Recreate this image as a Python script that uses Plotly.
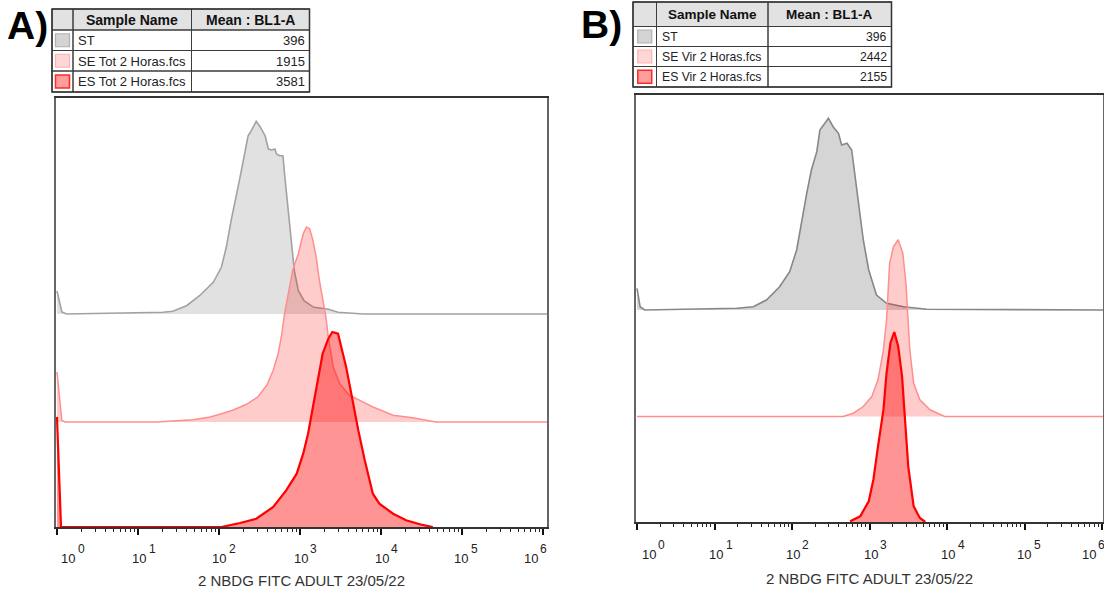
import numpy as np
import plotly.graph_objects as go

W, H = 1104, 596

# ---------------- data (log10 fluorescence, histogram height) ----------------
# Panel A
a_st_log = [0.0, 0.06, 0.12, 0.94, 1.31, 1.43, 1.60, 1.76, 1.93, 2.03, 2.09, 2.15, 2.22, 2.26, 2.30, 2.36,
            2.40, 2.46, 2.50, 2.57, 2.61, 2.65, 2.69, 2.71, 2.75, 2.79, 2.81, 2.85, 2.89, 2.93, 2.98, 3.05,
            3.17, 3.34, 3.47, 3.78, 6.05]
a_st_h = [23, 2, 0, 0.7, 1.7, 2.7, 8.3, 18.3, 31.7, 46.7, 66.7, 93.3, 123.3, 136.7, 153.3, 178.3,
          183.3, 192.7, 188.3, 178.3, 165, 164, 165, 160, 158.3, 158.3, 140, 106.7, 73.3, 43.3, 23.3, 13.3,
          6.7, 5, 1.7, 0, 0]

a_se_log = [0.0, 0.06, 0.10, 1.23, 1.68, 1.89, 2.01, 2.17, 2.34, 2.48, 2.59, 2.67, 2.73, 2.77, 2.81,
            2.87, 2.91, 2.98, 3.04, 3.08, 3.12, 3.16, 3.20, 3.24, 3.28, 3.32, 3.35, 3.41, 3.49, 3.61,
            3.74, 3.90, 4.15, 4.39, 4.68, 6.05]
a_se_h = [50, 1.7, 0, 0, 2.3, 5, 7.7, 11.7, 17.7, 25, 36.7, 51.7, 68.3, 85, 108.3,
          135, 151.7, 168.3, 188.3, 195, 193.3, 181.7, 165, 141.7, 121.7, 105, 85, 55, 38.3, 26.7,
          21.7, 15, 6.7, 4.3, 0, 0]

a_es_log = [0.0, 0.05, 2.03, 2.26, 2.46, 2.67, 2.83, 2.96, 3.04, 3.10, 3.16, 3.22, 3.28, 3.35, 3.40,
            3.47, 3.51, 3.57, 3.63, 3.72, 3.80, 3.90, 3.98, 4.15, 4.31, 4.48, 4.64]
a_es_h = [110, 0, 0, 4, 8.3, 20, 36.7, 53.3, 73.3, 93.3, 120, 146.7, 173.3, 188.3, 195,
          193.3, 180, 160, 135, 96.7, 66.7, 33.3, 23.3, 13.3, 6.7, 2.7, 0]

# Panel B
b_st_log = [0.0, 0.04, 0.10, 0.94, 1.29, 1.50, 1.67, 1.84, 1.97, 2.06, 2.12, 2.19, 2.25, 2.32, 2.36,
            2.41, 2.47, 2.53, 2.60, 2.64, 2.71, 2.77, 2.81, 2.86, 2.92, 2.99, 3.09, 3.22, 3.44, 3.74, 6.02]
b_st_h = [21.7, 3.3, 0, 0.7, 1.7, 3.3, 10, 23.3, 38.3, 60, 86.7, 116.7, 140, 158.3, 180,
          185, 191.7, 183.3, 176.7, 165, 166.7, 160, 136.7, 106.7, 70, 40, 15, 6.7, 3.3, 0.7, 0]

b_se_log = [0.0, 2.66, 2.79, 2.92, 3.03, 3.11, 3.18, 3.22, 3.26, 3.31, 3.37, 3.43, 3.47, 3.50, 3.52,
            3.57, 3.65, 3.78, 3.97, 6.02]
b_se_h = [0, 0, 3.3, 10, 20, 36.7, 66.7, 96.7, 153.3, 170, 176.7, 163.3, 133.3, 96.7, 66.7,
          33.3, 16.7, 6.7, 0, 0]

b_es_log = [2.75, 2.88, 2.99, 3.05, 3.11, 3.18, 3.22, 3.27, 3.32, 3.37, 3.42, 3.46, 3.50, 3.57, 3.65, 3.72]
b_es_h = [0.7, 5.7, 20.7, 42.3, 75.7, 112.3, 149, 179, 190, 175.7, 145.7, 99, 55.7, 15.7, 4, 0]

# vertical offsets of the overlays (ES bottom, SE middle, ST top)
offsets_a = {"ST": 213, "SE": 105, "ES": 0}
offsets_b = {"ST": 212, "SE": 105.5, "ES": 0}

# tables
sample_names_a = ["ST", "SE Tot 2 Horas.fcs", "ES Tot 2 Horas.fcs"]
means_a = ["396", "1915", "3581"]
sample_names_b = ["ST", "SE Vir 2 Horas.fcs", "ES Vir 2 Horas.fcs"]
means_b = ["396", "2442", "2155"]
headers = ["Sample Name", "Mean : BL1-A"]

decades = [0, 1, 2, 3, 4, 5, 6]
tick_vals = [10 ** d for d in decades]
label_shift_a = [11.5, 1.5, 0.5, 1, 1, -0.5, -12]   # horizontal nudge of the "10" labels (px)
label_shift_b = [11.5, 1.5, 0.5, 1, 1, -0.5, -13]
minor_vals = [k * 10 ** d for d in range(0, 6) for k in range(2, 10)]
axis_title = "2 NBDG FITC ADULT 23/05/22"

FONT = "Liberation Sans, Arial, sans-serif"

styles = {
    "ST_a": dict(line=dict(color="#a2a2a2", width=1.6), fillcolor="rgba(200,200,200,0.55)"),
    "ST_b": dict(line=dict(color="#878787", width=1.6), fillcolor="rgba(190,190,190,0.65)"),
    "SE": dict(line=dict(color="#ff8e8e", width=1.5), fillcolor="rgba(255,0,0,0.2)"),
    "ES": dict(line=dict(color="#ff0000", width=2.2), fillcolor="rgba(255,0,0,0.42)"),
}

fig = go.Figure()


def add_hist(logs, hs, base, style, xa, ya):
    x = 10 ** np.array(logs, dtype=float)
    y = base + np.array(hs, dtype=float)
    fig.add_trace(go.Scatter(x=x, y=np.full(len(x), base, dtype=float), mode="lines",
                             line=dict(width=0), hoverinfo="skip", showlegend=False,
                             xaxis=xa, yaxis=ya))
    fig.add_trace(go.Scatter(x=x, y=y, mode="lines", fill="tonexty", line=style["line"],
                             fillcolor=style["fillcolor"], showlegend=False,
                             xaxis=xa, yaxis=ya))


add_hist(a_st_log, a_st_h, offsets_a["ST"], styles["ST_a"], "x", "y")
add_hist(a_se_log, a_se_h, offsets_a["SE"], styles["SE"], "x", "y")
add_hist(a_es_log, a_es_h, offsets_a["ES"], styles["ES"], "x", "y")

add_hist(b_st_log, b_st_h, offsets_b["ST"], styles["ST_b"], "x2", "y2")
add_hist(b_se_log, b_se_h, offsets_b["SE"], styles["SE"], "x2", "y2")
add_hist(b_es_log, b_es_h, offsets_b["ES"], styles["ES"], "x2", "y2")


def px(v):
    return v / W


def py(v):
    return 1 - v / H


def xaxis_cfg(left, right, rng):
    return dict(type="log", domain=[px(left), px(right)], range=rng, automargin=False,
                tickmode="array", tickvals=tick_vals, showticklabels=False,
                ticks="outside", ticklen=6, tickwidth=2, tickcolor="#111",
                minor=dict(tickmode="array", tickvals=minor_vals, ticks="outside",
                           ticklen=3, tickwidth=1, tickcolor="#222", showgrid=False),
                showline=True, linecolor="#333", linewidth=1.5, mirror=True,
                showgrid=False, zeroline=False)


def yaxis_cfg(top, bottom, rng, anchor):
    return dict(domain=[py(bottom), py(top)], range=rng, anchor=anchor, automargin=False,
                showticklabels=False, ticks="", showgrid=False, zeroline=False,
                showline=True, linecolor="#666", linewidth=1.8, mirror=True)


fig.update_layout(
    width=W, height=H, autosize=False,
    margin=dict(l=0, r=0, t=0, b=0, autoexpand=False),
    paper_bgcolor="white", plot_bgcolor="white",
    font=dict(family=FONT),
    xaxis=dict(**xaxis_cfg(56, 547, [-0.012, 6.05]), anchor="y"),
    yaxis=yaxis_cfg(98, 527, [0, 429], "x"),
    xaxis2=dict(**xaxis_cfg(636, 1103, [-0.013, 6.013]), anchor="y2"),
    yaxis2=yaxis_cfg(95, 522, [0, 427], "x2"),
)

shapes = []
annotations = []

# decade tick labels "10^n"
for xref, base_y, exp_y, shifts in [("x", 558, 549, label_shift_a), ("x2", 554, 545, label_shift_b)]:
    for d, sh in zip(decades, shifts):
        annotations.append(dict(x=d, y=py(base_y), xref=xref, yref="paper", text="10",
                                showarrow=False, xanchor="center", yanchor="middle", xshift=sh,
                                font=dict(family=FONT, size=13, color="#222")))
        annotations.append(dict(x=d, y=py(exp_y), xref=xref, yref="paper", text=str(d),
                                showarrow=False, xanchor="left", yanchor="middle", xshift=sh + 7.5,
                                font=dict(family=FONT, size=12, color="#222")))

# axis titles
annotations.append(dict(x=px(301), y=py(580), xref="paper", yref="paper", text=axis_title,
                        showarrow=False, font=dict(family=FONT, size=15, color="#333"),
                        xanchor="center", yanchor="middle"))
annotations.append(dict(x=px(870), y=py(578), xref="paper", yref="paper", text=axis_title,
                        showarrow=False, font=dict(family=FONT, size=15, color="#333"),
                        xanchor="center", yanchor="middle"))

# panel letters
for letter, lx, ly in [("A)", 5, 26), ("B)", 579, 25)]:
    annotations.append(dict(x=px(lx), y=py(ly), xref="paper", yref="paper", text="<b>%s</b>" % letter,
                            showarrow=False, font=dict(family=FONT, size=39, color="#000"),
                            xanchor="left", yanchor="middle"))

swatches = [
    dict(fill="#d4d4d4", border="#b0b0b0", w=1.2),
    dict(fill="#ffd6d6", border="#ffb0b0", w=1.2),
    dict(fill="#ff9c9c", border="#ff2a2a", w=1.5),
]


def add_table(x_edges, y_edges, names, means, head_size, row_size):
    shapes.append(dict(type="rect", xref="paper", yref="paper",
                       x0=px(x_edges[0]), x1=px(x_edges[-1]), y0=py(y_edges[1]), y1=py(y_edges[0]),
                       fillcolor="#e2e2e2", line=dict(width=0), layer="above"))
    for r in range(len(y_edges) - 1):
        for c in range(len(x_edges) - 1):
            shapes.append(dict(type="rect", xref="paper", yref="paper",
                               x0=px(x_edges[c]), x1=px(x_edges[c + 1]),
                               y0=py(y_edges[r + 1]), y1=py(y_edges[r]),
                               line=dict(color="#3c3c3c", width=1), layer="above"))
    shapes.append(dict(type="rect", xref="paper", yref="paper",
                       x0=px(x_edges[0]), x1=px(x_edges[-1]), y0=py(y_edges[-1]), y1=py(y_edges[0]),
                       line=dict(color="#333", width=1.5), layer="above"))
    for c, htxt in enumerate(headers):
        annotations.append(dict(x=px((x_edges[c + 1] + x_edges[c + 2]) / 2),
                                y=py((y_edges[0] + y_edges[1]) / 2 + 0.5),
                                xref="paper", yref="paper", text="<b>%s</b>" % htxt, showarrow=False,
                                font=dict(family=FONT, size=head_size, color="#111"),
                                xanchor="center", yanchor="middle"))
    for r in range(3):
        yc = (y_edges[r + 1] + y_edges[r + 2]) / 2
        cx = (x_edges[0] + x_edges[1]) / 2
        s = swatches[r]
        shapes.append(dict(type="rect", xref="paper", yref="paper",
                           x0=px(cx - 7), x1=px(cx + 7), y0=py(yc + 6.5), y1=py(yc - 6.5),
                           fillcolor=s["fill"], line=dict(color=s["border"], width=s["w"]), layer="above"))
        annotations.append(dict(x=px(x_edges[1] + 3), y=py(yc + 0.5), xref="paper", yref="paper",
                                text=names[r], showarrow=False,
                                font=dict(family=FONT, size=row_size, color="#222"),
                                xanchor="left", yanchor="middle"))
        annotations.append(dict(x=px(x_edges[3] - 3), y=py(yc + 0.5), xref="paper", yref="paper",
                                text=means[r], showarrow=False,
                                font=dict(family=FONT, size=row_size, color="#222"),
                                xanchor="right", yanchor="middle"))


add_table([52, 73, 191.5, 309.5], [9, 30, 50.5, 71, 92], sample_names_a, means_a, 14, 13)
add_table([633, 656.5, 768, 891.5], [2, 26.5, 46.5, 66.5, 87], sample_names_b, means_b, 13.5, 12.2)

fig.update_layout(shapes=shapes, annotations=annotations)

fig.write_html("out.html")
